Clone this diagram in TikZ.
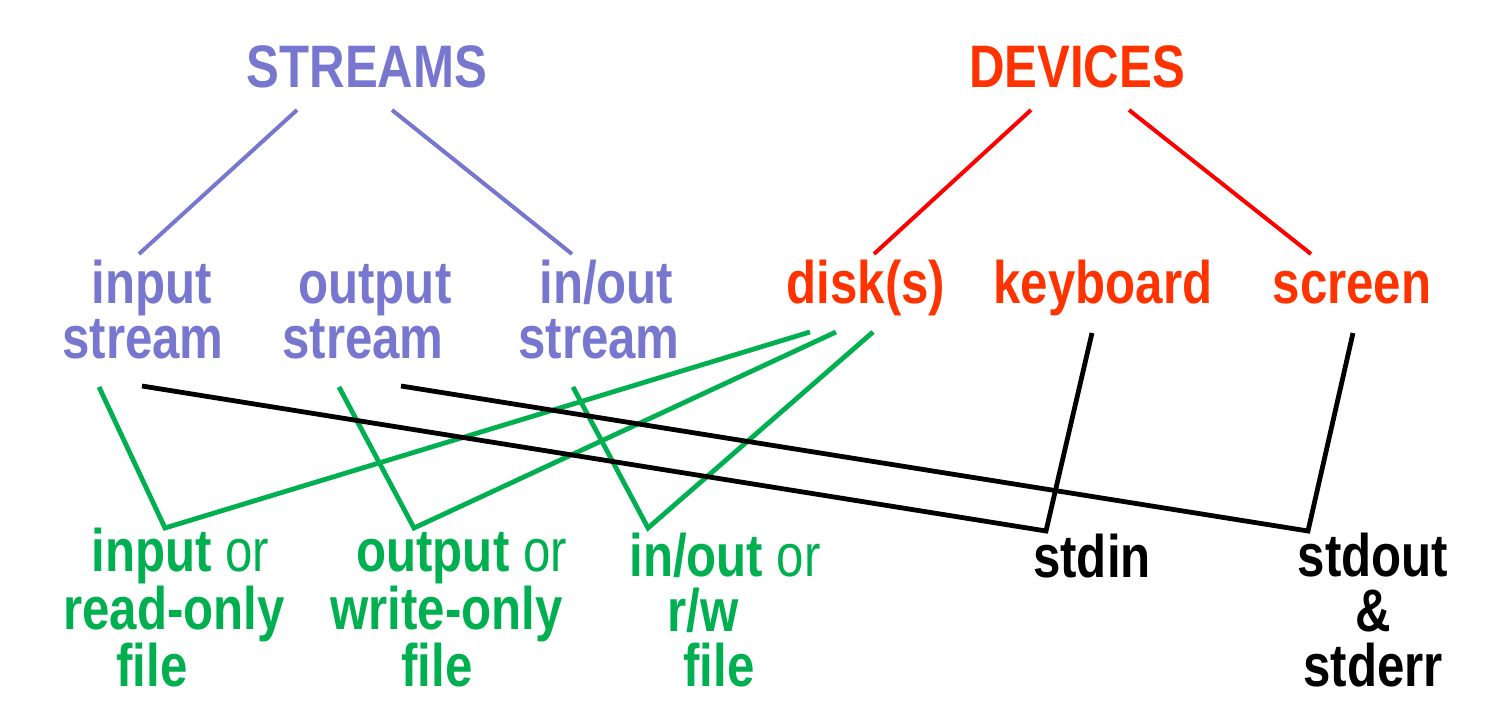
\documentclass[tikz,border=0pt]{standalone}
\usepackage{fontspec}
\setmainfont{Liberation Sans}[FakeStretch=0.82]
\usepackage{tikz}
\usetikzlibrary{calc}
\definecolor{streamblue}{RGB}{119,119,208}
\definecolor{devred}{RGB}{255,51,0}
\definecolor{linered}{RGB}{255,0,0}
\definecolor{filegreen}{RGB}{0,176,80}

\begin{document}
\begin{tikzpicture}[
    x = 0.5pt, y = -0.5pt,
    txt/.style = {inner sep = 0pt, font = \fontsize{30}{27.5}\selectfont\bfseries},
    blk/.style = {txt, align = left, anchor = base west},
    vline/.style = {streamblue, line width = 2pt},
    rline/.style = {linered, line width = 2pt},
    gline/.style = {filegreen, line width = 2.4pt},
    kline/.style = {black, line width = 2.4pt}
  ]
  \useasboundingbox (0,0) rectangle (1500,710);

  % headings
  \node[txt, anchor=base, text=streamblue] (streams) at (367,88) {STREAMS};
  \node[txt, anchor=base, text=devred] (devices) at (1077,88) {DEVICES};

  % streams
  \node[blk, text=streamblue] (inputs) at (62,359) {\hspace*{14.5pt}input\\ stream};
  \node[blk, text=streamblue] (outputs) at (282,359) {\hspace*{8pt}output\\ stream};
  \node[blk, text=streamblue] (inouts) at (518,359) {\hspace*{10.5pt}in/out\\ stream};

  % devices
  \node[txt, anchor=base, text=devred] (disk) at (866,304) {disk(s)};
  \node[txt, anchor=base, text=devred] (keyboard) at (1103,304) {keyboard};
  \node[txt, anchor=base, text=devred] (screen) at (1352,304) {screen};

  % files
  \node[blk, text=filegreen] (rofile) at (63,687)
    {\hspace*{14pt}input {\mdseries or}\\ read-only\\ \hspace*{26.5pt}file};
  \node[blk, text=filegreen] (wofile) at (330,687)
    {\hspace*{13pt}output {\mdseries or}\\ write-only\\ \hspace*{35.5pt}file};
  \node[blk, text=filegreen] (rwfile) at (629,687)
    {in/out {\mdseries or}\\ \hspace*{19pt}r/w\\ \hspace*{27pt}file};

  % standard streams
  \node[txt, anchor=base] (stdin) at (1092,578) {stdin};
  \node[txt, anchor=base, align=center] (stdout) at (1373,687) {stdout\\ \&\\ stderr};

  % tree lines
  \draw[vline] ($(streams.base)+(-70,22)$) -- ($(inputs.base west)+(77,-105)$);
  \draw[vline] ($(streams.base)+(25,22)$) -- ($(inouts.base west)+(54,-105)$);
  \draw[rline] ($(devices.base)+(-46,22)$) -- ($(disk.base)+(8,-50)$);
  \draw[rline] ($(devices.base)+(52,22)$) -- ($(screen.base)+(-41,-50)$);

  % disk to files
  \draw[gline] ($(inputs.base west)+(37,28)$) -- ($(rofile.base west)+(102,-159)$)
    -- ($(disk.base)+(-56,28)$);
  \draw[gline] ($(outputs.base west)+(57,28)$) -- ($(wofile.base west)+(84,-159)$)
    -- ($(disk.base)+(-30,28)$);
  \draw[gline] ($(inouts.base west)+(55,28)$) -- ($(rwfile.base west)+(19,-159)$)
    -- ($(disk.base)+(7,28)$);

  % keyboard and screen
  \draw[kline] ($(inputs.base west)+(80,27)$) -- ($(stdin.base)+(-46,-47)$)
    -- ($(keyboard.base)+(-11,29)$);
  \draw[kline] ($(outputs.base west)+(119,27)$) -- ($(stdout.base)+(-65,-156)$)
    -- ($(screen.base)+(1,29)$);
\end{tikzpicture}
\end{document}
